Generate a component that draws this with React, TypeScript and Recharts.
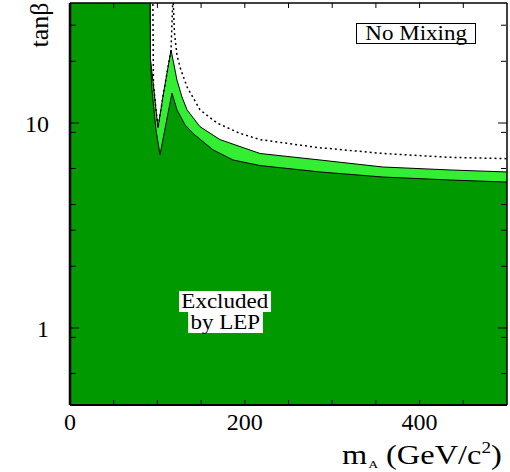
import React from 'react';
import { ComposedChart, Area, Line, XAxis, YAxis } from 'recharts';

// boundary of the dark green region (excluded at 95% CL)
const darkMa = [0, 91.5, 92.1, 93.8, 98.4, 103, 109.8, 116.7, 122.4, 131.6, 140.7, 163.6, 186.5, 217.4, 286, 358, 435, 500];
const darkTan = [60, 45, 20.3, 14.5, 9.25, 7.0, 9.9, 14.0, 11.6, 9.8, 8.9, 7.4, 6.6, 6.2, 5.77, 5.45, 5.27, 5.15];

// upper edge of the light green band
const lightMa = [0, 91.5, 92.1, 95.5, 98.4, 100.7, 107.6, 115.6, 119.0, 122.4, 128.1, 133.9, 148.7, 171.6, 217.4, 286, 358, 435, 500];
const lightTan = [60, 45, 20.3, 15.3, 11.6, 9.5, 14.5, 22.7, 19.2, 16.2, 13.4, 11.6, 9.6, 8.3, 7.1, 6.6, 6.1, 5.9, 5.77];

// expected limit (dotted)
const expMa = [94.7, 95.5, 98.4, 100.7, 107.6, 115.6, 117.8, 119.5, 122.4, 125.9, 133.9, 148.7, 168.2, 194.5, 217.4, 282.6, 358.1, 434.8, 500];
const expTan = [45, 15.3, 11.6, 9.5, 14.5, 22.7, 42, 27.5, 21.5, 18.7, 15.0, 11.6, 10.0, 8.9, 8.3, 7.6, 7.1, 6.8, 6.7];

const xTicks = [0, 200, 400];
const xMinorTicks = [50, 100, 150, 200, 250, 300, 350, 400, 450];
const yTicks = [1, 10];
const yMinorTicks = [0.5, 0.6, 0.7, 0.8, 0.9, 2, 3, 4, 5, 6, 7, 8, 9, 20, 30];

const X_DOMAIN = [0, 500];
const Y_DOMAIN = [0.421, 38.5];

const zip = (xs: number[], ys: number[]) => xs.map((x, i) => ({ x, v: ys[i] }));
const darkData = zip(darkMa, darkTan);
const lightData = zip(lightMa, lightTan);
const expData = zip(expMa, expTan);

const serif = '"Liberation Serif", "DejaVu Serif", serif';
const tickStyle = { fill: '#000', fontSize: 24, fontFamily: serif };
const noLabel = () => <g />;
const tickLn = { stroke: '#000', strokeWidth: 1 };

export default function App() {
  return (
    <div style={{ position: 'absolute', left: 0, top: 0, width: 510, height: 472, background: '#fff', fontFamily: serif, overflow: 'hidden' }}>
      <ComposedChart width={510} height={472} margin={{ top: 3, right: 3, left: 0, bottom: 0 }}>
        <XAxis dataKey="x" type="number" domain={X_DOMAIN} ticks={xTicks} allowDataOverflow
          tickLine={false} tickSize={0} tickMargin={8} height={67}
          axisLine={{ stroke: '#000', strokeWidth: 2 }} tick={tickStyle} />
        <XAxis xAxisId="bm" dataKey="x" type="number" domain={X_DOMAIN} ticks={xMinorTicks} allowDataOverflow
          mirror height={1} tick={noLabel} axisLine={false} tickLine={tickLn} tickSize={5} />
        <XAxis xAxisId="top" orientation="top" dataKey="x" type="number" domain={X_DOMAIN} ticks={xMinorTicks} allowDataOverflow
          mirror height={1} tick={noLabel} axisLine={{ stroke: '#000', strokeWidth: 1.5 }} tickLine={tickLn} tickSize={5} />
        <YAxis type="number" scale="log" domain={Y_DOMAIN} ticks={yTicks} allowDataOverflow width={70}
          tickLine={false} tickSize={0} tickMargin={21}
          axisLine={{ stroke: '#000', strokeWidth: 2.5 }} tick={tickStyle} />
        <YAxis yAxisId="lmaj" type="number" scale="log" domain={Y_DOMAIN} ticks={yTicks} allowDataOverflow
          mirror width={1} tick={noLabel} axisLine={false} tickLine={tickLn} tickSize={9} />
        <YAxis yAxisId="lmin" type="number" scale="log" domain={Y_DOMAIN} ticks={yMinorTicks} allowDataOverflow
          mirror width={1} tick={noLabel} axisLine={false} tickLine={tickLn} tickSize={5} />
        <YAxis yAxisId="rmaj" orientation="right" type="number" scale="log" domain={Y_DOMAIN} ticks={yTicks} allowDataOverflow
          mirror width={1} tick={noLabel} axisLine={{ stroke: '#000', strokeWidth: 1.5 }} tickLine={tickLn} tickSize={9} />
        <YAxis yAxisId="rmin" orientation="right" type="number" scale="log" domain={Y_DOMAIN} ticks={yMinorTicks} allowDataOverflow
          mirror width={1} tick={noLabel} axisLine={false} tickLine={tickLn} tickSize={5} />

        <Area data={lightData} dataKey="v" type="linear" baseValue="dataMin" fill="#33ee33" fillOpacity={1}
          stroke="#000" strokeWidth={1} isAnimationActive={false} />
        <Area data={darkData} dataKey="v" type="linear" baseValue="dataMin" fill="#009900" fillOpacity={1}
          stroke="#000" strokeWidth={1} isAnimationActive={false} />
        <Line data={expData} dataKey="v" type="linear" stroke="#000" strokeWidth={1.5} strokeDasharray="2 3"
          dot={false} isAnimationActive={false} />
      </ComposedChart>

      <div style={{ position: 'absolute', left: 40, top: 25, width: 0, height: 0 }}>
        <div style={{ position: 'absolute', left: -40, top: -14, width: 80, textAlign: 'center', transform: 'rotate(-90deg)',
          fontSize: 26, lineHeight: '28px', whiteSpace: 'nowrap' }}>
          tanβ
        </div>
      </div>

      <div style={{ position: 'absolute', left: 342, top: 441, fontSize: 27, lineHeight: '28px', whiteSpace: 'nowrap',
        transform: 'scaleX(1.2)', transformOrigin: '0 0' }}>
        m<span style={{ fontSize: 11, position: 'relative', top: 4, marginLeft: 1 }}>A</span>{' '}(GeV/c<span
          style={{ fontSize: 16, position: 'relative', top: -11 }}>2</span>)
      </div>

      <div style={{ position: 'absolute', left: 356, top: 23, width: 118, height: 19, border: '1.5px solid #000', background: '#fff',
        lineHeight: '19px', textAlign: 'center', whiteSpace: 'nowrap' }}>
        <span style={{ display: 'inline-block', fontSize: 20, transform: 'scaleX(1.15)' }}>No Mixing</span>
      </div>

      <div style={{ position: 'absolute', left: 165, top: 291, width: 120, textAlign: 'center', fontSize: 20, lineHeight: '21px' }}>
        <span style={{ display: 'inline-block', background: '#fff', padding: '0 2px', transform: 'scaleX(1.15)' }}>Excluded</span><br />
        <span style={{ display: 'inline-block', background: '#fff', padding: '0 2px', transform: 'scaleX(1.15)' }}>by LEP</span>
      </div>
    </div>
  );
}
